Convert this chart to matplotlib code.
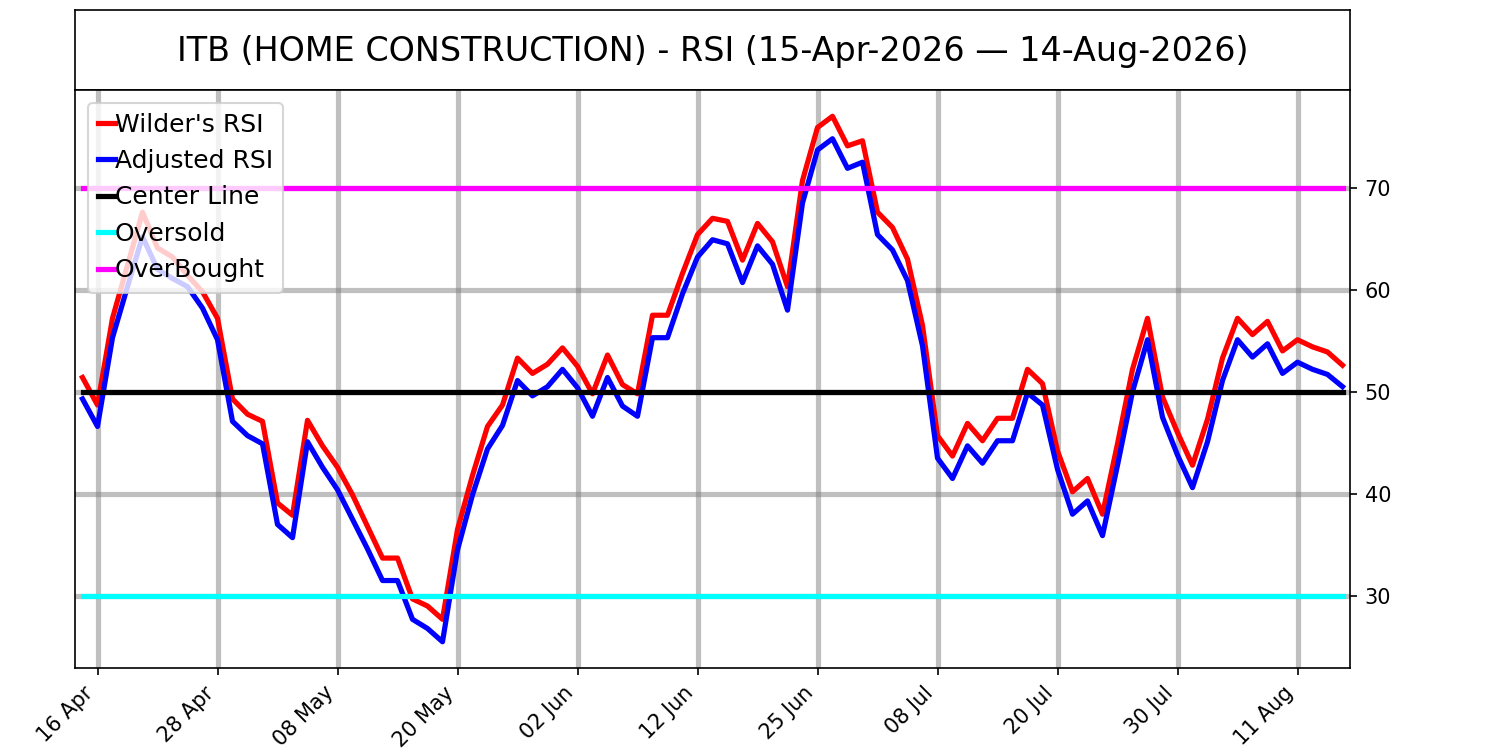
import matplotlib
matplotlib.use('Agg')
import matplotlib.pyplot as plt
import numpy as np
import pandas as pd

# Trading calendar (NYSE holidays in the window)
holidays = ['2026-05-25', '2026-06-19', '2026-07-03']
dates = pd.bdate_range('2026-04-15', '2026-08-14', freq='C', holidays=holidays)

# RSI values
wilder_rsi = [51.4, 48.7, 57.2, 62.4, 67.6, 64.1, 63.2, 61.4, 59.8, 57.2,
              49.3, 47.8, 47.1, 39.1, 37.9, 47.2, 44.7, 42.6, 39.9, 36.8,
              33.7, 33.7, 29.7, 29.0, 27.7, 36.5, 41.8, 46.6, 48.7, 53.3,
              51.8, 52.7, 54.3, 52.5, 49.8, 53.6, 50.7, 49.8, 57.5, 57.5,
              61.6, 65.4, 67.0, 66.7, 62.9, 66.5, 64.7, 60.3, 70.7, 75.9,
              77.0, 74.1, 74.6, 67.6, 66.1, 63.0, 56.5, 45.7, 43.7, 46.9,
              45.2, 47.4, 47.4, 52.2, 50.8, 44.2, 40.2, 41.5, 38.0, 44.9,
              52.2, 57.2, 49.5, 46.0, 42.8, 47.3, 53.3, 57.2, 55.6, 56.9,
              54.0, 55.1, 54.4, 53.9, 52.6]
adjusted_rsi = [49.3, 46.6, 55.3, 60.3, 65.2, 62.0, 61.1, 60.3, 58.2, 55.1,
                47.1, 45.7, 44.9, 37.0, 35.7, 45.1, 42.6, 40.4, 37.5, 34.6,
                31.5, 31.5, 27.7, 26.8, 25.5, 34.5, 39.9, 44.4, 46.7, 51.1,
                49.6, 50.5, 52.2, 50.4, 47.6, 51.4, 48.6, 47.6, 55.3, 55.3,
                59.6, 63.2, 64.9, 64.5, 60.7, 64.3, 62.5, 58.0, 68.5, 73.7,
                74.8, 71.9, 72.5, 65.4, 63.9, 60.9, 54.5, 43.5, 41.5, 44.7,
                43.0, 45.2, 45.2, 49.9, 48.7, 42.4, 38.0, 39.3, 35.9, 42.8,
                50.0, 55.1, 47.5, 43.8, 40.6, 45.1, 51.1, 55.1, 53.4, 54.7,
                51.8, 52.9, 52.2, 51.7, 50.5]

center_level = 50
oversold_level = 30
overbought_level = 70

n = len(dates)
x = np.arange(n)

fig = plt.figure(figsize=(10, 5), dpi=150)
ax_title = fig.add_axes([0.05, 0.88, 0.85, 0.1067])
ax = fig.add_axes([0.05, 0.1093, 0.85, 0.7707])

ax_title.set_xticks([])
ax_title.set_yticks([])
ax_title.text(0.5, 0.48, 'ITB (HOME CONSTRUCTION) - RSI (15-Apr-2026 \u2014 14-Aug-2026)',
              ha='center', va='center', fontsize=16, transform=ax_title.transAxes)

lw = 2.5
ax.plot(x, wilder_rsi, color='red', lw=lw, label="Wilder's RSI")
ax.plot(x, adjusted_rsi, color='blue', lw=lw, label='Adjusted RSI')
ax.plot(x, np.full(n, center_level), color='black', lw=lw, label='Center Line')
ax.plot(x, np.full(n, oversold_level), color='cyan', lw=lw, label='Oversold')
ax.plot(x, np.full(n, overbought_level), color='magenta', lw=lw, label='OverBought')

ax.set_xlim(-0.5, n - 0.5)
ticks = x[1::8]
ax.set_xticks(ticks)
ax.set_xticklabels([dates[i].strftime('%d %b') for i in ticks], rotation=45, ha='right')
ax.yaxis.tick_right()
ax.grid(True, color='gray', alpha=0.5, linewidth=2.5)

ax.legend(loc='upper left', fontsize=12, handlelength=0.7, handletextpad=0.0)

plt.savefig('out.png', dpi=150)
